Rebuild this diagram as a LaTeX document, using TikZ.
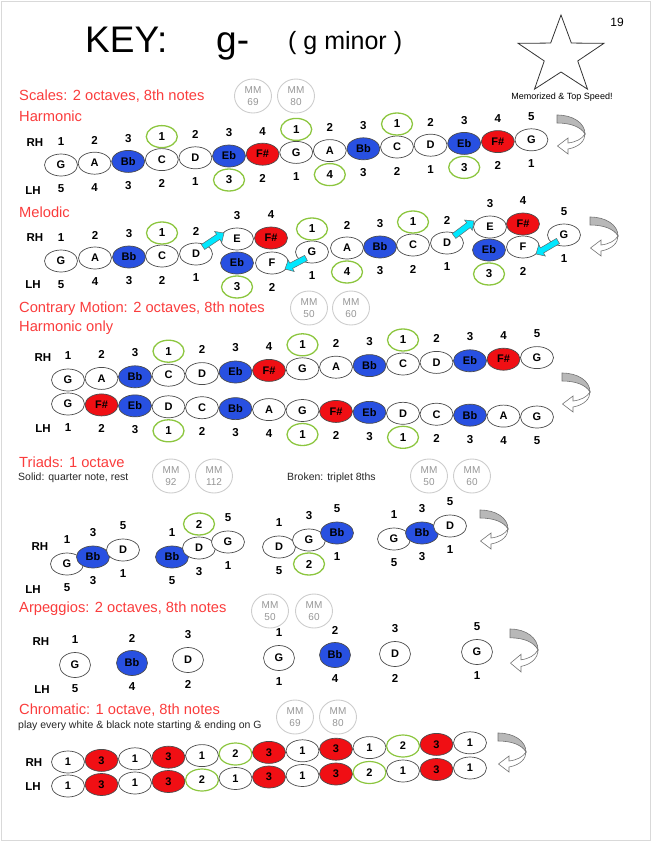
\documentclass[tikz,border=0pt]{standalone}
\usepackage{fontspec}
\setmainfont{Liberation Sans}
\usetikzlibrary{shapes.geometric,calc}
\definecolor{nblue}{RGB}{40,80,225}
\definecolor{nred}{RGB}{240,15,20}
\definecolor{tred}{RGB}{250,60,60}
\definecolor{fgreen}{RGB}{140,198,63}
\definecolor{mmgray}{RGB}{205,205,205}
\definecolor{mmtext}{RGB}{150,150,150}
\definecolor{acyan}{RGB}{0,232,255}
\tikzset{
 txt/.style={inner sep=0pt},
 note/.style={ellipse, draw=black!70, line width=0.7pt, fill=white, minimum width=33pt, minimum height=22pt, inner sep=0pt, font=\bfseries\fontsize{11}{11}\selectfont},
 wn/.style={note},
 bn/.style={note, fill=nblue},
 rn/.style={note, fill=nred},
 gn/.style={note, draw=fgreen, line width=1.2pt},
 fg/.style={inner sep=0pt, font=\bfseries\fontsize{11.5}{11.5}\selectfont},
 cf/.style={fg, ellipse, draw=fgreen, line width=1.3pt, minimum width=31pt, minimum height=22pt},
 hand/.style={inner sep=0pt, font=\bfseries\fontsize{11.5}{11.5}\selectfont},
 sect/.style={anchor=west, inner sep=0pt, text=tred, font=\fontsize{14.7}{14.7}\selectfont},
 sub/.style={anchor=west, inner sep=0pt, text=black!85, font=\fontsize{10.5}{10.5}\selectfont},
 mm/.style={ellipse, draw=mmgray, line width=0.9pt, minimum width=37pt, minimum height=34pt, inner sep=0pt, align=center, text=mmtext, font=\fontsize{10}{12.5}\selectfont},
 arp/.style={minimum width=31pt, minimum height=25pt},
 uturn/.pic={
  \path[fill=black!28, draw=black!55, line width=0.6pt] (0,0) .. controls (16,0) and (28,8) .. (28,19) .. controls (24,12) and (14,8) .. (0,8) -- cycle;
  \path[fill=white, draw=black!55, line width=0.6pt] (28,19) .. controls (28,26) and (22,32) .. (11,34) -- (11,39) -- (0.5,31) -- (11,23) -- (11,28) .. controls (19,27) and (25,24) .. (28,19) -- cycle;
 }
}
\newcommand\cyanarrow[2]{%
  \coordinate (ca-s) at #1; \coordinate (ca-e) at #2;
  \coordinate (ca-b) at ($(ca-e)!7pt!(ca-s)$);
  \draw[fill=acyan, draw=black!60, line width=0.5pt] ($(ca-s)!3pt!90:(ca-e)$) -- ($(ca-b)!3pt!90:(ca-e)$) -- ($(ca-b)!6.5pt!90:(ca-e)$) -- (ca-e) -- ($(ca-b)!6.5pt!-90:(ca-e)$) -- ($(ca-b)!3pt!-90:(ca-e)$) -- ($(ca-s)!3pt!-90:(ca-e)$) -- cycle;}
\begin{document}
\begin{tikzpicture}[x=1pt,y=-1pt]
\useasboundingbox (0,0) rectangle (651,841);
\draw[black!15, line width=1pt] (1,1) rectangle (650,840);

% title
\node[txt, anchor=base west, font=\fontsize{37}{37}\selectfont] (key) at (85,52) {KEY:};
\node[txt, anchor=base west, font=\fontsize{37}{37}\selectfont] (keyname) at (216,52) {g-};
\node[txt, anchor=base west, font=\fontsize{25}{25}\selectfont] (keyfull) at (288,49) {( g minor )};
\node[txt, font=\fontsize{12}{12}\selectfont] (page) at (617,22) {19};
\draw[black!80, line width=0.8pt, shift={(561,56)}, xscale=1.1] (270:41) -- (306:16) -- (342:41) -- (18:16) -- (54:41) -- (90:16) -- (126:41) -- (162:16) -- (198:41) -- (234:16) -- cycle;
\node[txt, font=\fontsize{9}{9}\selectfont] (memo) at (562,97) {Memorized \& Top Speed!};

% ---------- Scales: harmonic
\node[sect] (s1) at (19,96) {Scales: 2 octaves, 8th notes};
\node[sect] (s1b) at (19,116) {Harmonic};
\node[mm] (mm1) at (253,96) {MM\\69};
\node[mm] (mm2) at (296,96) {MM\\80};
\node[hand] (hrh) at (35,143) {RH};
\node[hand] (hlh) at (33,191) {LH};
\foreach \n/\s [count=\i from 0] in {G/wn,A/wn,Bb/bn,C/wn,D/wn,Eb/bn,F\#/rn,G/wn,A/wn,Bb/bn,C/wn,D/wn,Eb/bn,F\#/rn,G/wn}
  \node[\s] (h\i) at ({61+33.6*\i},{165-1.8*\i}) {\n};
\foreach \f/\s [count=\i from 0] in {1/fg,2/fg,3/fg,1/cf,2/fg,3/fg,4/fg,1/cf,2/fg,3/fg,1/cf,2/fg,3/fg,4/fg,5/fg}
  \node[\s] (hr\i) at ($(h\i)+(0,-23)$) {\f};
\foreach \f/\s [count=\i from 0] in {5/fg,4/fg,3/fg,2/fg,1/fg,3/cf,2/fg,1/fg,4/cf,3/fg,2/fg,1/fg,3/cf,2/fg,1/fg}
  \node[\s] (hl\i) at ($(h\i)+(0,24)$) {\f};
\pic at (557,115) {uturn};

% ---------- Melodic
\node[sect] (s2) at (19,212) {Melodic};
\node[hand] (mrh) at (35,238) {RH};
\node[hand] (mlh) at (33,285) {LH};
\foreach \n/\s/\x/\y [count=\i from 0] in {G/wn/61/261,A/wn/95/258,Bb/bn/129/257,C/wn/162/256,D/wn/196/254,E/wn/237/239,F\#/rn/271/238,Eb/bn/237/263,F/wn/272/263,G/wn/312/252,A/wn/347/248,Bb/bn/380/247,C/wn/413/245,D/wn/447/243,E/wn/490/227,F\#/rn/523/224,Eb/bn/489/250,F/wn/523/247,G/wn/564/235}
  \node[\s] (m\i) at (\x,\y) {\n};
\foreach \k/\f/\s in {0/1/fg,1/2/fg,2/3/fg,3/1/cf,4/2/fg,5/3/fg,6/4/fg,9/1/cf,10/2/fg,11/3/fg,12/1/cf,13/2/fg,14/3/fg,15/4/fg,18/5/fg}
  \node[\s] (mr\k) at ($(m\k)+(0,-23)$) {\f};
\foreach \k/\f/\s in {0/5/fg,1/4/fg,2/3/fg,3/2/fg,4/1/fg,7/3/cf,8/2/fg,9/1/fg,10/4/cf,11/3/fg,12/2/fg,13/1/fg,16/3/cf,17/2/fg,18/1/fg}
  \node[\s] (ml\k) at ($(m\k)+(0,24)$) {\f};
\cyanarrow{($(m4)+(7,-7)$)}{($(m5)+(-13,-6)$)}
\cyanarrow{($(m9)+(-6,6)$)}{($(m8)+(13,6)$)}
\cyanarrow{($(m13)+(7,-7)$)}{($(m14)+(-16,-6)$)}
\cyanarrow{($(m18)+(-6,6)$)}{($(m17)+(13,7)$)}
\pic at (590,217) {uturn};

% ---------- Contrary motion
\node[sect] (s3) at (19,309) {Contrary Motion: 2 octaves, 8th notes};
\node[sect] (s3b) at (19,328) {Harmonic only};
\node[mm] (mm3) at (309,308) {MM\\50};
\node[mm] (mm4) at (351,308) {MM\\60};
\node[hand] (crh) at (43,358) {RH};
\node[hand] (clh) at (43,429) {LH};
\foreach \n/\s [count=\i from 0] in {G/wn,A/wn,Bb/bn,C/wn,D/wn,Eb/bn,F\#/rn,G/wn,A/wn,Bb/bn,C/wn,D/wn,Eb/bn,F\#/rn,G/wn}
  \node[\s] (cu\i) at ({68+33.5*\i},{380-1.6*\i}) {\n};
\foreach \n/\s [count=\i from 0] in {G/wn,F\#/rn,Eb/bn,D/wn,C/wn,Bb/bn,A/wn,G/wn,F\#/rn,Eb/bn,D/wn,C/wn,Bb/bn,A/wn,G/wn}
  \node[\s] (cl\i) at ({68+33.5*\i},{404+0.93*\i}) {\n};
\foreach \f/\s [count=\i from 0] in {1/fg,2/fg,3/fg,1/cf,2/fg,3/fg,4/fg,1/cf,2/fg,3/fg,1/cf,2/fg,3/fg,4/fg,5/fg}
  \node[\s] (cr\i) at ($(cu\i)+(0,-24)$) {\f};
\foreach \f/\s [count=\i from 0] in {1/fg,2/fg,3/fg,1/cf,2/fg,3/fg,4/fg,1/cf,2/fg,3/fg,1/cf,2/fg,3/fg,4/fg,5/fg}
  \node[\s] (cll\i) at ($(cl\i)+(0,24)$) {\f};
\pic at (562,373) {uturn};

% ---------- Triads
\node[sect] (s4) at (19,462) {Triads: 1 octave};
\node[sub] (s4a) at (18,478) {Solid: quarter note, rest};
\node[sub] (s4b) at (287,478) {Broken: triplet 8ths};
\node[mm] (mm5) at (171,476) {MM\\92};
\node[mm] (mm6) at (214,476) {MM\\112};
\node[mm] (mm7) at (429,476) {MM\\50};
\node[mm] (mm8) at (472,476) {MM\\60};
\node[hand] (trh) at (40,547) {RH};
\node[hand] (tlh) at (33,590) {LH};
\foreach \n/\s/\x/\y/\a/\sa/\b/\sb [count=\i from 0] in {
  G/wn/67/564/1/fg/5/fg, Bb/bn/93/557/3/fg/3/fg, D/wn/123/550/5/fg/1/fg,
  Bb/bn/172/557/1/fg/5/fg, D/wn/199/548/2/cf/3/fg, G/wn/228/542/5/fg/1/fg,
  D/wn/279/547/1/fg/5/fg, G/wn/309/540/3/fg/2/cf, Bb/bn/337/533/5/fg/1/fg,
  G/wn/394/539/1/fg/5/fg, Bb/bn/422/533/3/fg/3/fg, D/wn/450/526/5/fg/1/fg}
{
  \node[\s] (t\i) at (\x,\y) {\n};
  \node[\sa] (tr\i) at ($(t\i)+(0,-24)$) {\a};
  \node[\sb] (tl\i) at ($(t\i)+(0,24)$) {\b};
}
\pic at (480,510) {uturn};

% ---------- Arpeggios
\node[sect] (s5) at (19,609) {Arpeggios: 2 octaves, 8th notes};
\node[mm] (mm9) at (270,611) {MM\\50};
\node[mm] (mm10) at (314,611) {MM\\60};
\node[hand] (arh) at (41,642) {RH};
\node[hand] (alh) at (42,690) {LH};
\foreach \n/\s/\x/\y/\a/\b [count=\i from 0] in {G/wn/75/665/1/5, Bb/bn/132/663/2/4, D/wn/188/660/3/2, G/wn/279/658/1/1, Bb/bn/335/655/2/4, D/wn/395/654/3/2, G/wn/477/652/5/1}
{
  \node[\s, arp] (a\i) at (\x,\y) {\n};
  \node[fg] (ar\i) at ($(a\i)+(0,-25)$) {\a};
  \node[fg] (al\i) at ($(a\i)+(0,24)$) {\b};
}
\pic[yscale=1.1] at (510,629) {uturn};

% ---------- Chromatic
\node[sect] (s6) at (19,710) {Chromatic: 1 octave, 8th notes};
\node[sub] (s6a) at (18,726) {play every white \& black note starting \& ending on G};
\node[mm] (mm11) at (295,717) {MM\\69};
\node[mm] (mm12) at (338,717) {MM\\80};
\node[hand] (chrh) at (34,763) {RH};
\node[hand] (chlh) at (33,787) {LH};
\foreach \f/\s [count=\i from 0] in {1/wn,3/rn,1/wn,3/rn,1/wn,2/gn,3/rn,1/wn,3/rn,1/wn,2/gn,3/rn,1/wn}
  \node[\s] (xr\i) at ({68+33.5*\i},{762-1.6*\i}) {\f};
\foreach \f/\s [count=\i from 0] in {1/wn,3/rn,1/wn,3/rn,2/gn,1/wn,3/rn,1/wn,3/rn,2/gn,1/wn,3/rn,1/wn}
  \node[\s] (xl\i) at ({68+33.5*\i},{786-1.5*\i}) {\f};
\pic at (498,733) {uturn};
\end{tikzpicture}
\end{document}
